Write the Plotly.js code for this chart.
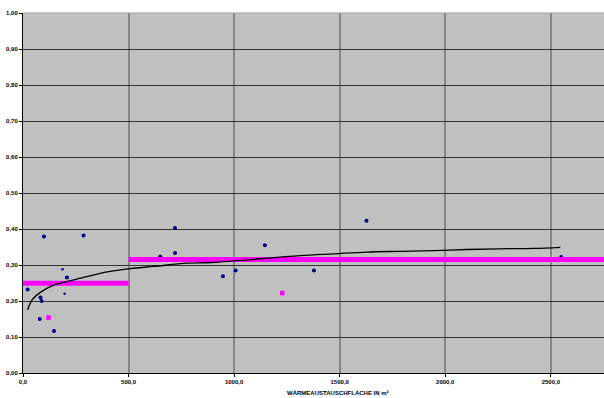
<!DOCTYPE html>
<html>
<head>
<meta charset="utf-8">
<script src="https://cdn.plot.ly/plotly-3.0.1.min.js"></script>
<style>html,body{margin:0;padding:0;background:#fff;}#chart{width:604px;height:398px;}</style>
</head>
<body>
<div id="chart"></div>
<script>
// Measured points (navy dots)
const pointsX = [22, 83, 88, 79, 99, 147, 208, 287, 650, 720, 720, 947, 1007, 1146, 1378, 1627, 2549];
const pointsY = [0.232, 0.210, 0.200, 0.150, 0.379, 0.117, 0.265, 0.382, 0.323, 0.403, 0.333, 0.269, 0.285, 0.355, 0.285, 0.423, 0.322];
// Small navy points
const minorX = [187, 197];
const minorY = [0.288, 0.220];
// Magenta square points
const specialX = [121, 1228];
const specialY = [0.154, 0.222];
// Group mean step lines (magenta)
const groupBounds = [0, 500, 2752];
const groupMeans = [0.249, 0.315];
// Trendline
const trendX = [22, 43, 82, 137, 208, 279, 360, 413, 508, 619, 777, 895, 1313, 1471, 1629, 1787, 1945, 2103, 2261, 2419, 2545];
const trendY = [0.175, 0.203, 0.224, 0.242, 0.254, 0.264, 0.276, 0.282, 0.290, 0.296, 0.305, 0.307, 0.326, 0.331, 0.336, 0.338, 0.340, 0.343, 0.345, 0.346, 0.349];
// Axis ticks
const xTicks = [0, 500, 1000, 1500, 2000, 2500];
const yTicks = [0, 0.1, 0.2, 0.3, 0.4, 0.5, 0.6, 0.7, 0.8, 0.9, 1.0];
const xTitle = 'WÄRMEAUSTAUSCHFLÄCHE IN m²';

const traces = [];
traces.push({x: pointsX, y: pointsY, mode: 'markers', type: 'scatter',
  marker: {color: '#000080', size: 4, symbol: 'circle'}, hoverinfo: 'none'});
traces.push({x: minorX, y: minorY, mode: 'markers', type: 'scatter',
  marker: {color: '#000080', size: 2.5, symbol: 'circle'}, hoverinfo: 'none'});
for (let i = 0; i < groupMeans.length; i++) {
  traces.push({x: [groupBounds[i], groupBounds[i+1]], y: [groupMeans[i], groupMeans[i]],
    mode: 'lines', type: 'scatter', line: {color: '#FF00FF', width: 5}, hoverinfo: 'none'});
}
traces.push({x: specialX, y: specialY, mode: 'markers', type: 'scatter',
  marker: {color: '#FF00FF', size: 4.5, symbol: 'square'}, hoverinfo: 'none'});
traces.push({x: trendX, y: trendY, mode: 'lines', type: 'scatter',
  line: {color: '#000000', width: 1.3, shape: 'spline'}, hoverinfo: 'none'});

const tickFont = {family: 'Liberation Sans, Arial, sans-serif', size: 6, color: '#000', weight: 'bold'};

const layout = {
  width: 604, height: 398,
  margin: {l: 23, r: 0, t: 13, b: 25, pad: 0},
  paper_bgcolor: '#ffffff',
  plot_bgcolor: '#C0C0C0',
  showlegend: false,
  separators: ',.',
  xaxis: {
    range: [0, 2752], tickvals: xTicks, tickformat: '.1f',
    showgrid: true, gridcolor: '#858585', gridwidth: 2,
    zeroline: false, showline: true, linecolor: '#000', linewidth: 1,
    ticks: 'outside', ticklen: 3, tickcolor: '#000', tickwidth: 1,
    tickfont: tickFont, fixedrange: true
  },
  yaxis: {
    range: [0, 1], tickvals: yTicks, tickformat: '.2f',
    showgrid: true, gridcolor: '#333', gridwidth: 1,
    zeroline: false, showline: true, linecolor: '#000', linewidth: 1,
    ticks: 'outside', ticklen: 3, tickcolor: '#000', tickwidth: 1,
    tickfont: tickFont, fixedrange: true
  },
  shapes: [{type: 'line', xref: 'paper', yref: 'paper', x0: 0, x1: 1, y0: 1, y1: 1,
    line: {color: '#A0A0A0', width: 1}}],
  annotations: [{text: xTitle, xref: 'paper', yref: 'paper', x: (338 - 23) / 581, y: 0,
    yshift: -20, xanchor: 'center', yanchor: 'middle', showarrow: false,
    font: {family: 'Liberation Sans, Arial, sans-serif', size: 6, color: '#000', weight: 'bold'}}]
};

Plotly.newPlot('chart', traces, layout, {staticPlot: true, displayModeBar: false});
</script>
</body>
</html>
